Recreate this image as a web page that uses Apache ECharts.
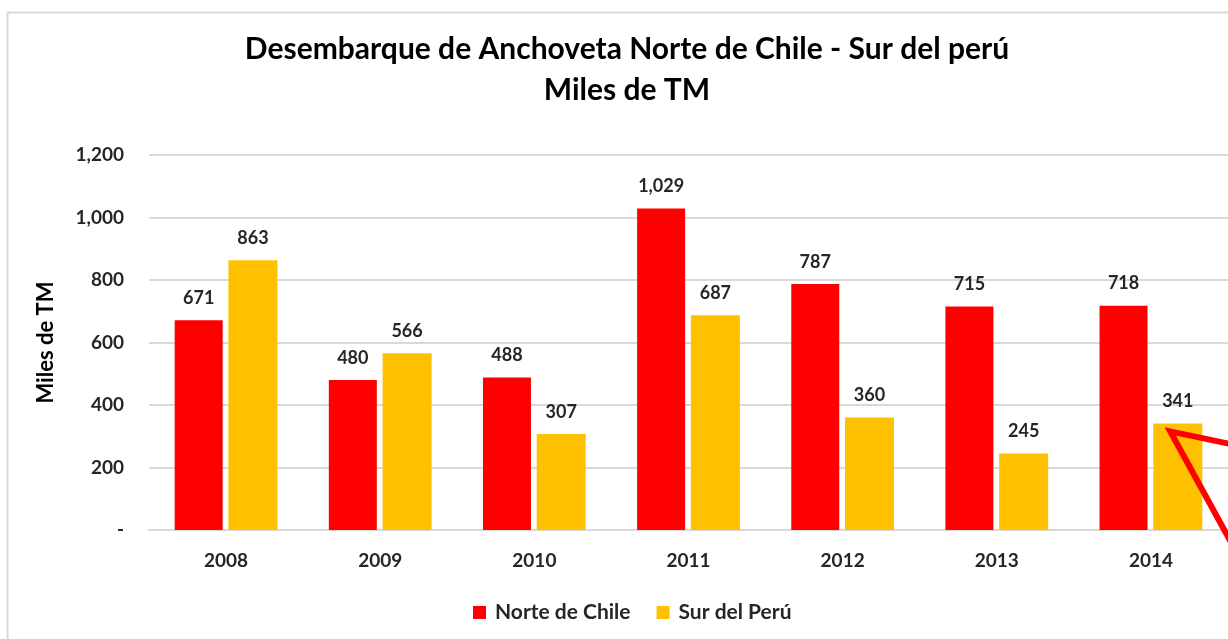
<!DOCTYPE html>
<html>
<head>
<meta charset="utf-8">
<script src="https://cdn.jsdelivr.net/npm/echarts@6/dist/echarts.min.js"></script>
<style>
  html, body { margin: 0; padding: 0; background: #fff; }
  #main { width: 1228px; height: 639px; }
</style>
</head>
<body>
<div id="main"></div>
<script>
// datos
var years = ['2008', '2009', '2010', '2011', '2012', '2013', '2014'];
var norteChile = [671, 480, 488, 1029, 787, 715, 718];
var surPeru = [863, 566, 307, 687, 360, 245, 341];

var myChart = echarts.init(document.getElementById('main'));

var fmt = function (v) {
  if (v === 0) return '-';
  return v.toLocaleString('en-US');
};

var labelStyle = {
  show: true,
  position: 'top',
  distance: 13,
  color: '#262626',
  fontFamily: 'Lato',
  fontWeight: 'bold',
  fontSize: 18,
  formatter: function (p) { return fmt(p.value); }
};

var option = {
  animation: false,
  title: {
    text: 'Desembarque de Anchoveta Norte de Chile - Sur del perú\nMiles de TM',
    left: 622,
    top: 24,
    textAlign: 'center',
    textStyle: {
      fontFamily: 'Lato',
      fontWeight: 'bold',
      fontSize: 30,
      lineHeight: 41,
      color: '#000'
    }
  },
  legend: {
    top: 597,
    left: 468,
    itemWidth: 13,
    itemHeight: 13,
    itemGap: 26,
    icon: 'rect',
    textStyle: { fontFamily: 'Lato', fontWeight: 'bold', fontSize: 21, color: '#262626', padding: [0, 0, 0, 4] },
    data: ['Norte de Chile', 'Sur del Perú']
  },
  grid: { left: 149, right: 0, top: 155, bottom: 109 },
  xAxis: {
    type: 'category',
    data: years,
    axisLine: { lineStyle: { color: '#d9d9d9', width: 2 } },
    axisTick: { show: false },
    axisLabel: {
      margin: 21,
      color: '#262626',
      fontFamily: 'Lato',
      fontWeight: 'bold',
      fontSize: 19
    }
  },
  yAxis: {
    type: 'value',
    min: 0,
    max: 1200,
    interval: 200,
    name: 'Miles de TM',
    nameLocation: 'middle',
    nameGap: 92,
    nameTextStyle: {
      fontFamily: 'Lato',
      fontWeight: 'bold',
      fontSize: 22,
      color: '#000'
    },
    axisLine: { show: false },
    axisTick: { show: false },
    splitLine: { lineStyle: { color: '#d9d9d9', width: 2 } },
    axisLabel: {
      margin: 25,
      color: '#262626',
      fontFamily: 'Lato',
      fontWeight: 'bold',
      fontSize: 19,
      formatter: fmt
    }
  },
  series: [
    {
      name: 'Norte de Chile',
      type: 'bar',
      data: norteChile,
      barWidth: 48,
      barGap: '12%',
      itemStyle: { color: '#ff0000' },
      label: labelStyle
    },
    {
      name: 'Sur del Perú',
      type: 'bar',
      data: surPeru,
      barWidth: 49,
      itemStyle: { color: '#ffc000' },
      label: labelStyle
    }
  ]
};

myChart.setOption(option);

// borde del gráfico y flecha roja sobre la barra 2014
var lay = myChart.getModel().getSeriesByIndex(1).getData().getItemLayout(6);
var tipX = lay.x + 17;
var tipY = Math.min(lay.y, lay.y + lay.height) + 8;
myChart.setOption({
  graphic: [
    {
      type: 'rect',
      shape: { x: 7.5, y: 12.5, width: 1400, height: 800 },
      style: { fill: null, stroke: '#d9d9d9', lineWidth: 2 },
      silent: true,
      z: -1
    },
    {
      type: 'polyline',
      shape: { points: [[tipX + 120, tipY + 25], [tipX, tipY], [tipX + 75, tipY + 137]] },
      style: { fill: null, stroke: '#ff0000', lineWidth: 6, lineJoin: 'miter' },
      silent: true,
      z: 10
    }
  ]
});
</script>
</body>
</html>
